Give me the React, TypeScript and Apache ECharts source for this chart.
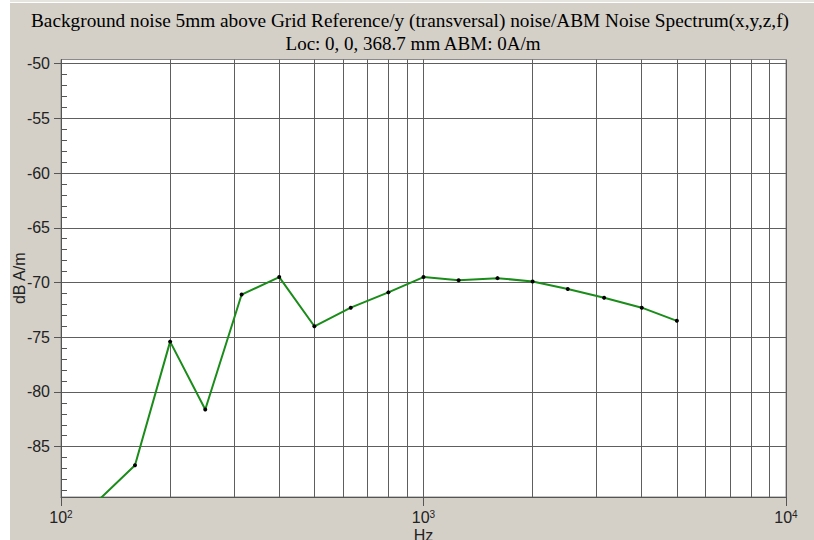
import React, { useEffect, useRef } from "react";
import * as echarts from "echarts";

const titleLine1 =
  "Background noise 5mm above Grid Reference/y (transversal) noise/ABM Noise Spectrum(x,y,z,f)";
const titleLine2 = "Loc: 0, 0, 368.7 mm ABM: 0A/m";

const freqs = [125, 160, 200, 250, 315, 400, 500, 630, 800, 1000, 1250, 1600, 2000, 2500, 3150, 4000, 5000];
const levels = [-90.1, -86.7, -75.4, -81.6, -71.1, -69.5, -74.0, -72.3, -70.9, -69.5, -69.8, -69.6, -69.9, -70.6, -71.4, -72.3, -73.5];

const yMajorTicks = [-85, -80, -75, -70, -65, -60, -55, -50];
const yMinorTicks = [-89, -88, -87, -86, -84, -83, -82, -81, -79, -78, -77, -76, -74, -73, -72, -71, -69, -68, -67, -66, -64, -63, -62, -61, -59, -58, -57, -56, -54, -53, -52, -51];
const xMinorLines = [200, 300, 400, 500, 600, 700, 800, 900, 1000, 2000, 3000, 4000, 5000, 6000, 7000, 8000, 9000];

const yMin = -89.6;
const yMax = -49.62;

export default function App() {
  const ref = useRef<HTMLDivElement>(null);
  useEffect(() => {
    document.body.style.margin = "0";
    const chart = echarts.init(ref.current!, null, { renderer: "svg" });
    const gridColor = "#5e5e5e";
    const sans = "'Liberation Sans', Arial, sans-serif";
    chart.setOption({
      animation: false,
      backgroundColor: "#d4d0c8",
      graphic: [
        { type: "rect", z: -10, shape: { x: 0, y: 0, width: 10, height: 540 }, style: { fill: "#ffffff" } },
        { type: "rect", z: -10, shape: { x: 10, y: 0, width: 804, height: 2 }, style: { fill: "#e6e4de" } },
        { type: "rect", z: -10, shape: { x: 10, y: 2, width: 804, height: 1 }, style: { fill: "#ffffff" } },
        {
          type: "text",
          x: 410,
          y: 20.3,
          style: {
            text: titleLine1,
            textAlign: "center",
            textVerticalAlign: "middle",
            font: "19.3px 'Liberation Serif', serif",
            fill: "#000",
          },
        },
        {
          type: "text",
          x: 413,
          y: 43,
          style: {
            text: titleLine2,
            textAlign: "center",
            textVerticalAlign: "middle",
            font: "19px 'Liberation Serif', serif",
            fill: "#000",
          },
        },
      ],
      grid: {
        left: 61,
        top: 59.5,
        width: 725,
        height: 437.5,
        containLabel: false,
        outerBoundsMode: "none",
        show: true,
        backgroundColor: "#ffffff",
        borderColor: "#8a8a8a",
        borderWidth: 1,
      },
      xAxis: {
        type: "log",
        logBase: 10,
        min: 100,
        max: 10000,
        name: "Hz",
        nameLocation: "middle",
        nameGap: 30.5,
        nameMoveOverlap: false,
        nameTextStyle: { fontFamily: sans, fontSize: 16, color: "#222", lineHeight: 16 },
        axisLine: { show: true, lineStyle: { color: "#555", width: 1 } },
        axisTick: { show: true, length: 9, lineStyle: { color: "#555" } },
        splitLine: { show: true, lineStyle: { color: gridColor, width: 1 } },
        axisLabel: {
          margin: 12,
          formatter: (v: number) => `{b|10}{s|${Math.round(Math.log10(v))}}`,
          rich: {
            b: { fontFamily: sans, fontSize: 16, color: "#222", lineHeight: 16 },
            s: { fontFamily: sans, fontSize: 10, color: "#222", verticalAlign: "top", lineHeight: 16, padding: [0, 0, 7, 0] },
          },
        },
      },
      yAxis: [
        {
          type: "value",
          min: yMin,
          max: yMax,
          name: "dB A/m",
          nameLocation: "middle",
          nameGap: 34,
          nameRotate: 90,
          nameMoveOverlap: false,
          nameTextStyle: { fontFamily: sans, fontSize: 16, color: "#222" },
          axisLine: { show: true, lineStyle: { color: "#555", width: 1 } },
          axisTick: { show: true, length: 7, customValues: yMajorTicks, lineStyle: { color: "#555" } },
          axisLabel: {
            customValues: yMajorTicks,
            margin: 11,
            fontFamily: sans,
            fontSize: 16,
            color: "#222",
          },
          splitLine: { show: true, lineStyle: { color: gridColor, width: 1 } },
        },
        {
          type: "value",
          min: yMin,
          max: yMax,
          position: "left",
          axisLine: { show: false },
          axisTick: { show: true, inside: true, length: 6, customValues: yMinorTicks, lineStyle: { color: "#555" } },
          axisLabel: { show: false },
          splitLine: { show: false },
        },
      ],
      series: [
        {
          type: "line",
          data: freqs.map((f, i) => [f, levels[i]]),
          yAxisIndex: 0,
          clip: true,
          symbol: "circle",
          symbolSize: 4,
          lineStyle: { color: "#1a8c1a", width: 2 },
          itemStyle: { color: "#000" },
          markLine: {
            silent: true,
            symbol: "none",
            label: { show: false },
            lineStyle: { color: gridColor, width: 1, type: "solid" },
            data: xMinorLines.map((v) => ({ xAxis: v })),
            z: 1,
          },
        },
      ],
    });
    return () => chart.dispose();
  }, []);
  return <div ref={ref} style={{ width: 814, height: 540 }} />;
}
